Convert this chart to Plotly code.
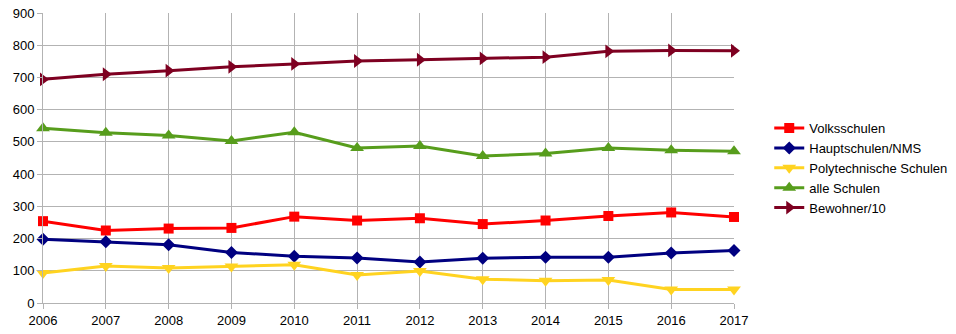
import plotly.graph_objects as go

years = list(range(2006, 2018))
volksschulen = [254, 225, 231, 233, 268, 256, 263, 245, 256, 270, 281, 267]
hauptschulen = [198, 190, 181, 157, 145, 140, 127, 139, 142, 142, 155, 163]
polytechnische = [93, 115, 109, 113, 119, 87, 99, 74, 69, 71, 42, 42]
alle_schulen = [542, 528, 520, 503, 530, 481, 487, 456, 464, 481, 474, 471]
bewohner = [694, 710, 721, 733, 742, 751, 755, 759, 763, 781, 784, 783]

series = [
    ("Volksschulen", volksschulen, "#ff0000", "square", 10),
    ("Hauptschulen/NMS", hauptschulen, "#000080", "diamond", 10),
    ("Polytechnische Schulen", polytechnische, "#ffd320", "triangle-down", 12),
    ("alle Schulen", alle_schulen, "#579d1c", "triangle-up", 12),
    ("Bewohner/10", bewohner, "#7e0021", "triangle-right", 12),
]

fig = go.Figure()
for name, vals, color, sym, size in series:
    fig.add_trace(go.Scatter(
        x=years, y=vals, name=name, mode="lines+markers",
        line=dict(color=color, width=3),
        marker=dict(symbol=sym, size=size, color=color),
        cliponaxis=False,
    ))

fig.update_layout(
    width=956, height=334,
    margin=dict(l=43, r=222, t=13, b=31, autoexpand=False),
    paper_bgcolor="white", plot_bgcolor="white",
    font=dict(family="Liberation Sans, Arial, sans-serif", size=13, color="#000000"),
    showlegend=True,
    legend=dict(x=1.051, y=0.655, xanchor="left", yanchor="top",
                font=dict(size=13), tracegroupgap=0, itemwidth=30,
                bgcolor="rgba(0,0,0,0)"),
)
fig.update_xaxes(range=[2006, 2017], tickmode="array", tickvals=years,
                 ticktext=[str(y) for y in years], automargin=False,
                 showgrid=True, gridcolor="#b3b3b3", gridwidth=1,
                 showline=True, linecolor="#b3b3b3", ticks="outside",
                 ticklen=5, tickcolor="#b3b3b3", zeroline=False, mirror=False)
fig.update_yaxes(range=[0, 900], tickmode="array", tickvals=list(range(0, 901, 100)),
                 automargin=False,
                 showgrid=True, gridcolor="#b3b3b3", gridwidth=1,
                 showline=True, linecolor="#b3b3b3", ticks="outside",
                 ticklen=5, tickcolor="#b3b3b3", zeroline=False)

fig.write_html("out.html")
